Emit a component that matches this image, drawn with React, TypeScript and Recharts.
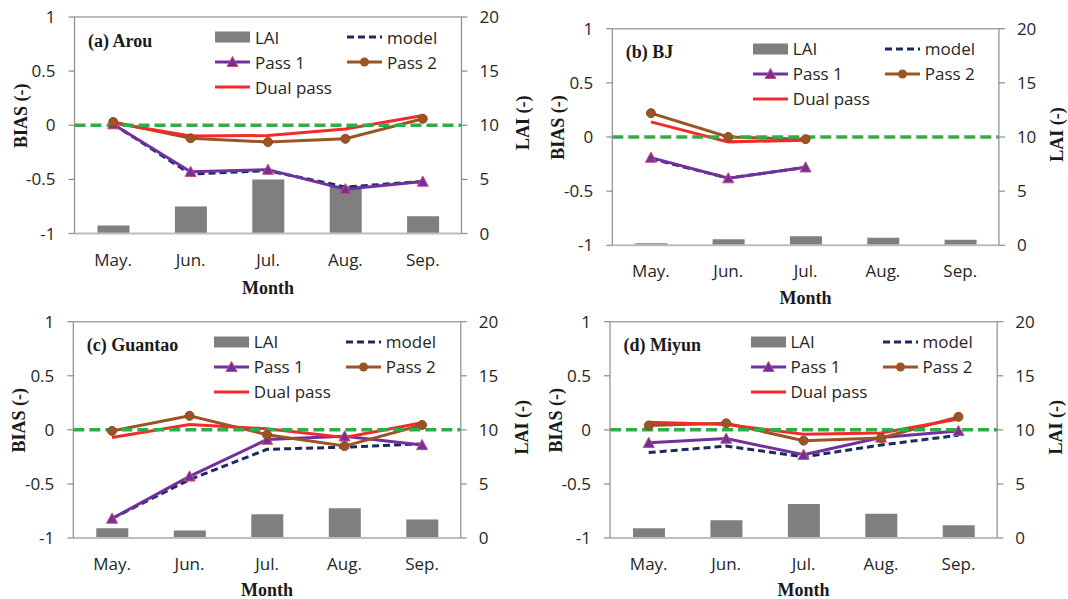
import React from "react";
import { ComposedChart, Bar, Line, XAxis, YAxis, ReferenceLine, Legend } from "recharts";

const months = ["May.", "Jun.", "Jul.", "Aug.", "Sep."];
const biasTicks = [-1, -0.5, 0, 0.5, 1];
const laiTicks = [0, 5, 10, 15, 20];

// (a) Arou
const arouLAI = [0.75, 2.5, 5.0, 4.4, 1.6];
const arouModel = [0.01, -0.45, -0.42, -0.57, -0.52];
const arouPass1 = [0.01, -0.43, -0.41, -0.59, -0.52];
const arouPass2 = [0.03, -0.12, -0.155, -0.125, 0.06];
const arouDual = [0.02, -0.1, -0.095, -0.035, 0.09];

// (b) BJ
const bjLAI = [0.2, 0.55, 0.83, 0.7, 0.52];
const bjModel = [-0.2, -0.38, -0.28, null, null];
const bjPass1 = [-0.19, -0.38, -0.28, null, null];
const bjPass2 = [0.22, 0.0, -0.02, null, null];
const bjDual = [0.14, -0.045, -0.03, null, null];

// (c) Guantao
const gtLAI = [0.9, 0.7, 2.2, 2.75, 1.7];
const gtModel = [-0.82, -0.46, -0.18, -0.16, -0.13];
const gtPass1 = [-0.82, -0.43, -0.09, -0.06, -0.14];
const gtPass2 = [-0.01, 0.13, -0.045, -0.15, 0.045];
const gtDual = [-0.07, 0.05, 0.01, -0.07, 0.065];

// (d) Miyun
const myLAI = [0.9, 1.65, 3.15, 2.25, 1.17];
const myModel = [-0.21, -0.15, -0.25, -0.14, -0.05];
const myPass1 = [-0.12, -0.08, -0.23, -0.07, -0.01];
const myPass2 = [0.04, 0.06, -0.1, -0.075, 0.12];
const myDual = [0.07, 0.05, -0.04, -0.03, 0.1];

const seriesNames = ["LAI", "model", "Pass 1", "Pass 2", "Dual pass"];

const C = {
  bar: "#7F7F7F",
  model: "#1C2A5E",
  pass1: "#7030A0",
  pass2: "#9B5425",
  dual: "#F42A2A",
  zero: "#2EAE4A",
  axis: "#8C8C8C",
  base: "#BDBDBD",
  text: "#262626",
};

const build = (lai: any[], model: any[], p1: any[], p2: any[], dual: any[]) =>
  months.map((m, i) => ({ m, lai: lai[i], model: model[i], p1: p1[i], p2: p2[i], dual: dual[i] }));

const panels = [
  { title: "(a) Arou", data: build(arouLAI, arouModel, arouPass1, arouPass2, arouDual), ox: 0, oy: 0, L: 74.5, R: 461.5, T: 17, B: 233.5, mdy: 60.5, ldx: 61 },
  { title: "(b) BJ", data: build(bjLAI, bjModel, bjPass1, bjPass2, bjDual), ox: 534, oy: 0, L: 612.3, R: 998.9, T: 28.7, B: 245.3, mdy: 59, ldx: 58 },
  { title: "(c) Guantao", data: build(gtLAI, gtModel, gtPass1, gtPass2, gtDual), ox: 0, oy: 300, L: 73.3, R: 460.8, T: 321.7, B: 538, mdy: 58, ldx: 61 },
  { title: "(d) Miyun", data: build(myLAI, myModel, myPass1, myPass2, myDual), ox: 534, oy: 300, L: 610, R: 997.2, T: 321.7, B: 538, mdy: 58, ldx: 59 },
];

const Tri = (props: any) => {
  const { cx, cy, index } = props;
  if (cx == null || cy == null || isNaN(cy)) return <g key={`t${index}`} />;
  const s = 5.5;
  return (
    <path
      key={`t${index}`}
      d={`M${cx},${cy - s} L${cx + s},${cy + s * 0.85} L${cx - s},${cy + s * 0.85} Z`}
      fill={C.pass1}
      stroke="#C8506E"
      strokeWidth={1}
    />
  );
};

const Swatch = ({ kind }: { kind: number }) => (
  <svg width={36} height={14} style={{ display: "block", flex: "none" }}>
    {kind === 0 && <rect x={0} y={1.5} width={35} height={11} fill={C.bar} />}
    {kind === 1 && <line x1={0} y1={7} x2={35} y2={7} stroke={C.model} strokeWidth={3} strokeDasharray="7 4" />}
    {kind === 2 && (
      <g>
        <line x1={0} y1={7} x2={35} y2={7} stroke={C.pass1} strokeWidth={3} />
        <path d="M17.5,1.5 L23,11.5 L12,11.5 Z" fill={C.pass1} stroke="#C8506E" strokeWidth={1} />
      </g>
    )}
    {kind === 3 && (
      <g>
        <line x1={0} y1={7} x2={35} y2={7} stroke={C.pass2} strokeWidth={3} />
        <circle cx={17.5} cy={7} r={4.5} fill={C.pass2} />
      </g>
    )}
    {kind === 4 && <line x1={0} y1={7} x2={35} y2={7} stroke={C.dual} strokeWidth={3} />}
  </svg>
);

const legendPos = [
  [0, 0],
  [132, 0],
  [0, 1],
  [132, 1],
  [0, 2],
];

const LegendBox = () => (
  <div style={{ position: "relative", width: 270, height: 76, fontFamily: "'Open Sans'", fontSize: 17, color: C.text }}>
    {seriesNames.map((n, i) => (
      <div
        key={n}
        style={{
          position: "absolute",
          left: legendPos[i][0],
          top: legendPos[i][1] * 25,
          height: 25,
          display: "flex",
          alignItems: "center",
          whiteSpace: "nowrap",
        }}
      >
        <Swatch kind={i} />
        <span style={{ marginLeft: 4, lineHeight: "25px" }}>{n}</span>
      </div>
    ))}
  </div>
);

const W = 534;
const H = 300;

const Panel = ({ p }: { p: any }) => {
  const left = p.L - p.ox;
  const right = W - (p.R - p.ox);
  const top = p.T - p.oy;
  const bottom = H - (p.B - p.oy);
  const midY = (p.T + p.B) / 2 - p.oy;
  const serif = { fontFamily: "'Liberation Serif'", fontWeight: 700, fontSize: 18, fill: "#1a1a1a" } as any;
  const lx = W - right + p.ldx;
  return (
    <div style={{ position: "absolute", left: p.ox, top: p.oy, width: W, height: H }}>
      <ComposedChart width={W} height={H} data={p.data} margin={{ top, right: 0, bottom: 0, left: 0 }}>
        <XAxis
          dataKey="m"
          xAxisId={0}
          height={bottom}
          tickLine={false}
          axisLine={{ stroke: C.base, strokeWidth: 2 }}
          tickSize={6}
          tickMargin={14}
          tick={{ fill: C.text, fontSize: 17, fontFamily: "'Open Sans'" }}
        />
        <YAxis
          yAxisId="left"
          orientation="left"
          width={left}
          domain={[-1, 1]}
          ticks={biasTicks}
          allowDataOverflow
          axisLine={{ stroke: C.axis, strokeWidth: 1.2 }}
          tickLine={{ stroke: C.axis, strokeWidth: 1.2 }}
          tickSize={6}
          tickMargin={13}
          tick={{ fill: C.text, fontSize: 17, fontFamily: "'Open Sans'" }}
        />
        <YAxis
          yAxisId="right"
          orientation="right"
          width={right}
          domain={[0, 20]}
          ticks={laiTicks}
          axisLine={{ stroke: C.axis, strokeWidth: 1.2 }}
          tickLine={{ stroke: C.axis, strokeWidth: 1.2 }}
          tickSize={6}
          tickMargin={12}
          tick={{ fill: C.text, fontSize: 17, fontFamily: "'Open Sans'" }}
        />
        <ReferenceLine yAxisId="left" y={1} stroke="#A6A6A6" strokeWidth={1.5} />
        <Bar yAxisId="right" dataKey="lai" fill={C.bar} barSize={32} isAnimationActive={false} />
        <Line yAxisId="left" dataKey="model" stroke={C.model} strokeWidth={3} strokeDasharray="7 4" dot={false} isAnimationActive={false} />
        <Line yAxisId="left" dataKey="p1" stroke={C.pass1} strokeWidth={3} dot={<Tri />} isAnimationActive={false} />
        <Line
          yAxisId="left"
          dataKey="p2"
          stroke={C.pass2}
          strokeWidth={3}
          dot={{ r: 4.5, fill: C.pass2, stroke: "#8A4A20", strokeWidth: 1 }}
          isAnimationActive={false}
        />
        <Line yAxisId="left" dataKey="dual" stroke={C.dual} strokeWidth={3} dot={false} isAnimationActive={false} />
        <ReferenceLine yAxisId="left" y={0} stroke={C.zero} strokeWidth={3.5} strokeDasharray="11 5" />
        <Legend
          verticalAlign="middle"
          align="center"
          layout="horizontal"
          content={() => <LegendBox />}
          wrapperStyle={{ left: left + 140.5, top: top + 7.5, width: 270, height: 76 }}
        />
      </ComposedChart>
      <svg width={W} height={H} style={{ position: "absolute", left: 0, top: 0, pointerEvents: "none", overflow: "visible" }}>
        <text x={left + 13.5} y={top + 29.5} style={serif}>{p.title}</text>
        <text
          x={left - 54}
          y={midY - 9.5}
          textAnchor="middle"
          dominantBaseline="central"
          transform={`rotate(-90 ${left - 54} ${midY - 9.5})`}
          style={serif}
        >
          BIAS (-)
        </text>
        <text
          x={lx}
          y={midY - 2.5}
          textAnchor="middle"
          dominantBaseline="central"
          transform={`rotate(-90 ${lx} ${midY - 2.5})`}
          style={serif}
        >
          LAI (-)
        </text>
        <text x={(left + W - right) / 2} y={p.B - p.oy + p.mdy} textAnchor="middle" style={serif}>
          Month
        </text>
      </svg>
    </div>
  );
}

export default function App() {
  return (
    <div style={{ position: "absolute", left: 0, top: 0, width: 1068, height: 599, overflow: "hidden", background: "#fff", fontFamily: "'Open Sans'" }}>
      {panels.map((p) => (
        <Panel key={p.title} p={p} />
      ))}
    </div>
  );
}
